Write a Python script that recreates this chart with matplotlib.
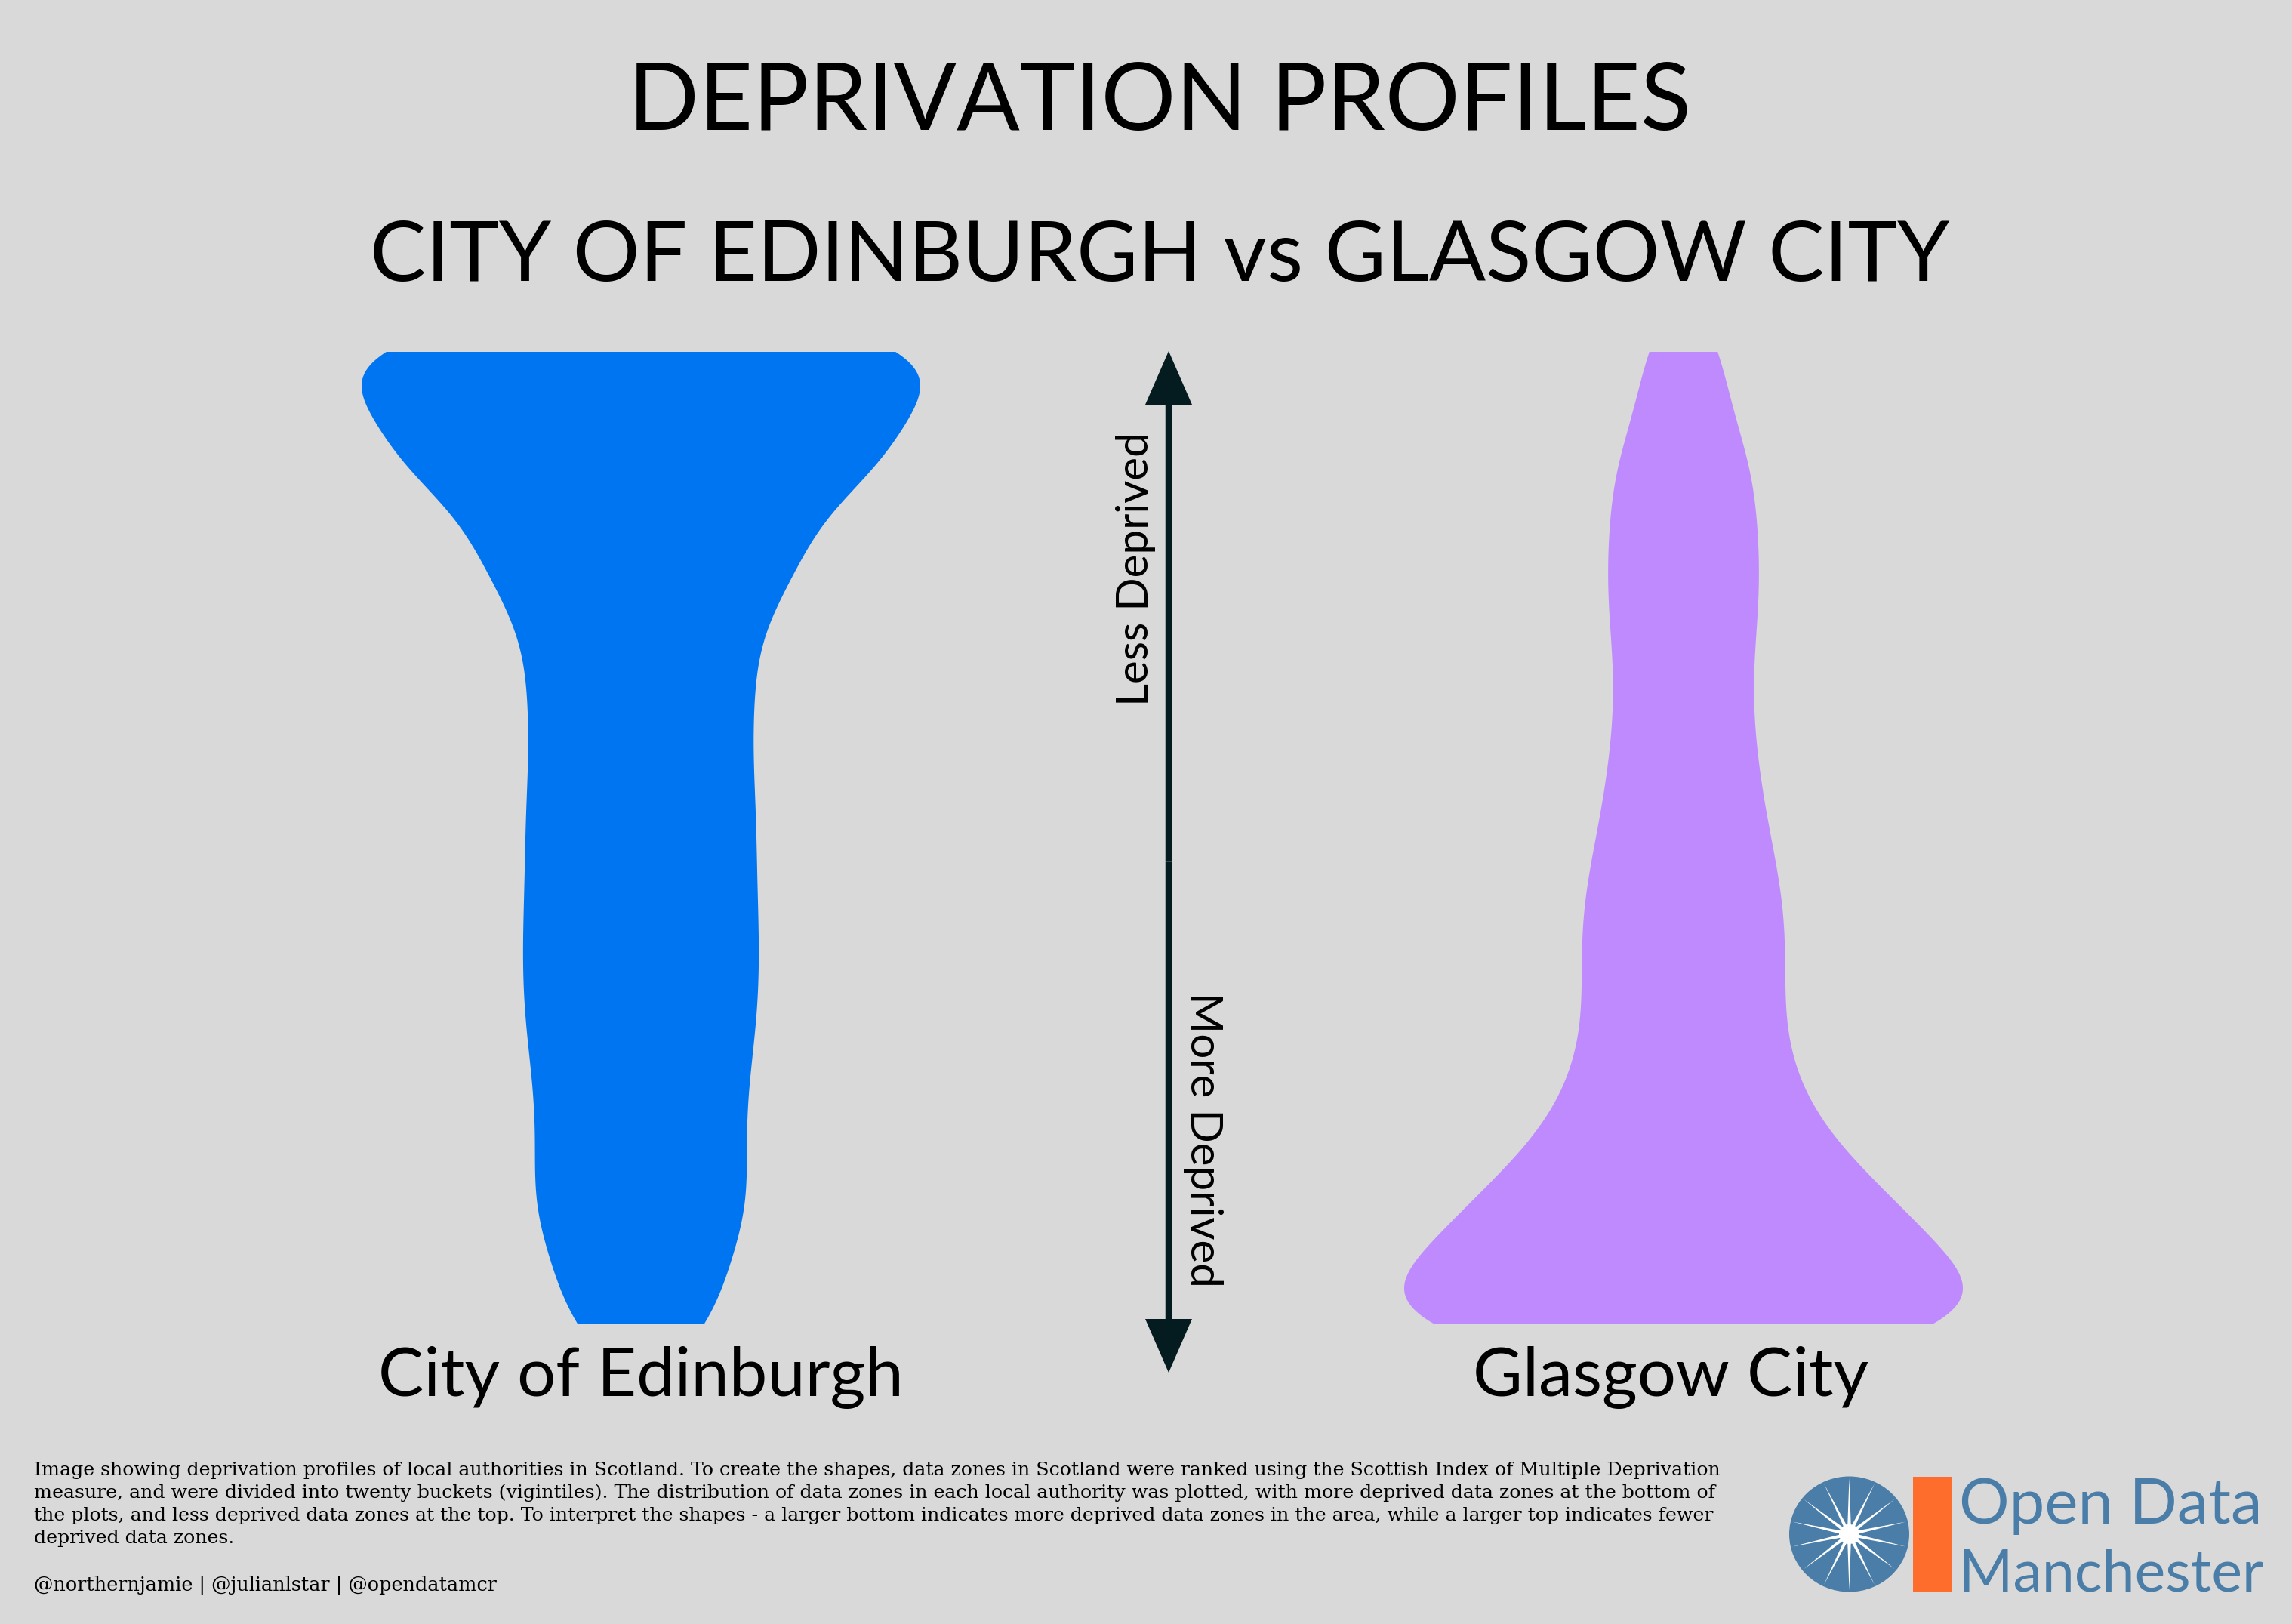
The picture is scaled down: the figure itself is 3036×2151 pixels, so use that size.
import numpy as np
import matplotlib
matplotlib.use('Agg')
import matplotlib.pyplot as plt
from matplotlib.patches import Ellipse, Rectangle, Polygon, FancyArrowPatch, ArrowStyle

plt.rcParams['font.family'] = ['Lato', 'DejaVu Sans']

# data zones per SIMD vigintile (1 = most deprived, 20 = least deprived)
vigintiles = np.arange(1, 21)
edinburgh_counts = [20, 14, 24, 21, 21, 22, 24, 24, 24, 23, 24, 22, 23, 23, 24, 38, 28, 66, 36, 98]
glasgow_counts = [135, 77, 77, 53, 40, 33, 30, 32, 32, 29, 25, 23, 21, 21, 24, 24, 22, 23, 10, 17]
areas = ['City of Edinburgh', 'Glasgow City']
colours = ['#0075f2', '#c08aff']

footer_lines = [
    "Image showing deprivation profiles of local authorities in Scotland. To create the shapes, data zones in Scotland were ranked using the Scottish Index of Multiple Deprivation",
    "measure, and were divided into twenty buckets (vigintiles). The distribution of data zones in each local authority was plotted, with more deprived data zones at the bottom of",
    "the plots, and less deprived data zones at the top. To interpret the shapes - a larger bottom indicates more deprived data zones in the area, while a larger top indicates fewer",
    "deprived data zones.",
]
credits = "@northernjamie | @julianlstar | @opendatamcr"

BG = '#d9d9d9'
ARROW = '#041c1f'
LOGO_BLUE = '#4a7ea8'
LOGO_ORANGE = '#ff6d2d'
BW = 1.0  # kde bandwidth in vigintile units
W, H = 3036, 2151

fig = plt.figure(figsize=(W / 100, H / 100), dpi=100, facecolor=BG)

# violins
vax = fig.add_axes([0, 397 / H, 1, 1288 / H])
samples = [np.repeat(vigintiles, edinburgh_counts), np.repeat(vigintiles, glasgow_counts)]
parts = vax.violinplot(samples, positions=[849, 2230], widths=740, showextrema=False,
                       points=600, bw_method=lambda kde: BW / kde.dataset.std(ddof=1))
for body, col in zip(parts['bodies'], colours):
    body.set_facecolor(col)
    body.set_edgecolor('none')
    body.set_alpha(1)
vax.set_xlim(0, W)
vax.set_ylim(1, 20)
vax.axis('off')
vax.patch.set_visible(False)

# overlay in pixel coords for text and decorations
ov = fig.add_axes([0, 0, 1, 1])
ov.set_xlim(0, W)
ov.set_ylim(H, 0)
ov.axis('off')
ov.patch.set_visible(False)

ov.text(1536, 172, 'DEPRIVATION PROFILES', ha='center', va='baseline',
        fontsize=89, color='black')
ov.text(1536, 372, 'CITY OF EDINBURGH vs GLASGOW CITY', ha='center', va='baseline',
        fontsize=80, color='black')

ov.text(849, 1849, areas[0], ha='center', va='baseline', fontsize=65, color='black')
ov.text(2213, 1849, areas[1], ha='center', va='baseline', fontsize=65, color='black')

# double arrow
mid = (465 + 1818) / 2
for tip in (465, 1818):
    ov.add_patch(FancyArrowPatch((1548, mid), (1548, tip),
                                 arrowstyle=ArrowStyle.Simple(head_length=71, head_width=62, tail_width=8.5),
                                 mutation_scale=0.72, color=ARROW, lw=0, shrinkA=0, shrinkB=0))
ov.text(1521, 754, 'Less Deprived', rotation=90, rotation_mode='anchor',
        ha='center', va='baseline', fontsize=42, color='black')
ov.text(1577, 1509, 'More Deprived', rotation=-90, rotation_mode='anchor',
        ha='center', va='baseline', fontsize=42, color='black')

# footer
for i, line in enumerate(footer_lines):
    ov.text(45, 1954 + 30 * i, line, ha='left', va='baseline', fontsize=18.2,
            family=['DejaVu Serif'], color='black')
ov.text(45, 2107, credits, ha='left', va='baseline', fontsize=18.4,
        family=['DejaVu Serif'], color='black')

# Open Data Manchester logo
cx, cy, rx, ry = 2449.5, 2032, 79.5, 76.5
ov.add_patch(Ellipse((cx, cy), 2 * rx, 2 * ry, facecolor=LOGO_BLUE, edgecolor='none'))
n = 14
k = np.arange(2 * n)
ang = np.pi / 2 + k * np.pi / n
r = np.where(k % 2 == 0, 0.97, 0.13)
ov.add_patch(Polygon(np.c_[cx + rx * r * np.cos(ang), cy - ry * r * np.sin(ang)],
                     closed=True, facecolor='white', edgecolor='none'))
ov.add_patch(Ellipse((cx, cy), 2 * rx * 0.17, 2 * ry * 0.17, facecolor='white', edgecolor='none'))
ov.add_patch(Rectangle((2534, 1956), 51, 152, facecolor=LOGO_ORANGE, edgecolor='none'))
ov.text(2595, 2018, 'Open Data', ha='left', va='baseline', fontsize=60, color=LOGO_BLUE)
ov.text(2595, 2107, 'Manchester', ha='left', va='baseline', fontsize=55.5, color=LOGO_BLUE)

fig.savefig('out.png', dpi=100, facecolor=BG)
